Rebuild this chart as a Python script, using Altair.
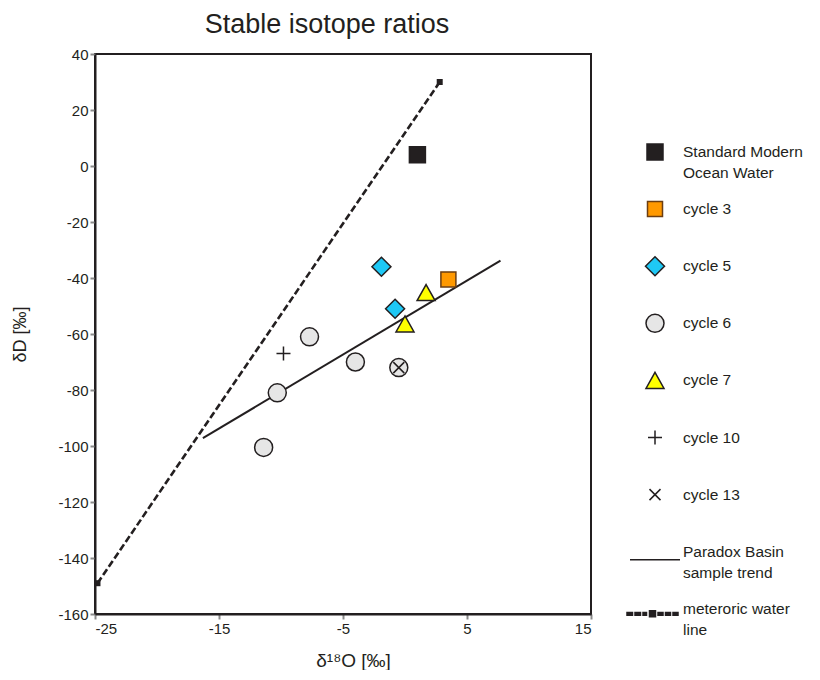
import altair as alt
import pandas as pd

# ---- data ----
series_names = ["Standard Modern|Ocean Water", "cycle 3", "cycle 5", "cycle 6", "cycle 7",
                "cycle 10", "cycle 13", "Paradox Basin|sample trend", "meteroric water|line"]

pt_series = ["Standard Modern|Ocean Water", "cycle 3", "cycle 5", "cycle 5",
             "cycle 6", "cycle 6", "cycle 6", "cycle 6", "cycle 6",
             "cycle 7", "cycle 7", "cycle 10", "cycle 13"]
pt_d18o = [1.0, 3.5, -1.9, -0.8, -7.7, -4.0, -10.3, -11.4, -0.5, 1.7, 0.0, -9.8, -0.5]
pt_dD = [4.0, -40.5, -36.0, -51.0, -61.0, -70.0, -81.0, -100.5, -72.0, -45.2, -56.4, -67.0, -72.0]

trend_d18o = [-16.3, 7.7]
trend_dD = [-97.2, -33.8]

mwl_d18o = [-24.8, 2.8]
mwl_dD = [-149.0, 30.0]

x_ticks = [-25, -15, -5, 5, 15]
y_ticks = [-160, -140, -120, -100, -80, -60, -40, -20, 0, 20, 40]

# ---- styles (symbol paths drawn in units of 10 px, fixed symbol size 400) ----
def dash(x0, w, y0=0.5):
    return f"M{x0},{y0 - 0.14}h{w}v0.28h{-w}z "

mwl_path = (dash(-2.8, 0.55) + dash(-2.0, 0.55) + dash(-1.2, 0.35) +
            "M-0.55,0.2h0.6v0.6h-0.6z " +
            dash(0.3, 0.5) + dash(1.05, 0.5) + dash(1.8, 0.5))
series_shapes = [
    "M-0.8,-0.8H0.8V0.8H-0.8Z",
    "M-0.75,-0.75H0.75V0.75H-0.75Z",
    "M0,-0.95L0.95,0L0,0.95L-0.95,0Z",
    "M-0.9,0A0.9,0.9,0,1,0,0.9,0A0.9,0.9,0,1,0,-0.9,0Z",
    "M0,-0.8L0.9,0.8L-0.9,0.8Z",
    "M-0.7,0L0.7,0M0,-0.7L0,0.7",
    "M-0.55,-0.55L0.55,0.55M-0.55,0.55L0.55,-0.55",
    "M-2.5,0.8L2.5,0.8",
    mwl_path,
]
series_fills = ["#231f20", "#ff9900", "#1ec8f5", "#e6e6e6", "#ffff00",
                "transparent", "transparent", "transparent", "#231f20"]
series_strokes = ["#231f20", "#6b3e12", "#231f20", "#231f20", "#231f20",
                  "#231f20", "#231f20", "#231f20", "#231f20"]

points = pd.DataFrame({"series": pt_series, "d18o": pt_d18o, "dD": pt_dD})
trend = pd.DataFrame({"d18o": trend_d18o, "dD": trend_dD})
mwl = pd.DataFrame({"d18o": mwl_d18o, "dD": mwl_dD})

xscale = alt.Scale(domain=[-25, 15], nice=False, zero=False)
yscale = alt.Scale(domain=[-160, 40], nice=False, zero=False)

x_axis = alt.Axis(values=x_ticks, title="δ¹⁸O [‰]", titleFontSize=19, titleFontWeight="normal",
                  titleX=258, titleY=46, titleBaseline="middle", titleAlign="center",
                  labelExpr="'' + datum.value")
y_axis = alt.Axis(values=y_ticks, title="δD [‰]", titleFontSize=18, titleFontWeight="normal",
                  titleX=-75, titleY=280, titleAngle=-90, titleBaseline="middle", titleAlign="center",
                  labelExpr="'' + datum.value")

X = alt.X("d18o:Q", scale=xscale, axis=x_axis)
Y = alt.Y("dD:Q", scale=yscale, axis=y_axis)

legend = alt.Legend(title=None, orient="none", legendX=549, legendY=87, gridAlign="all",
                    labelExpr="split(datum.label, '|')", labelFontSize=15.5, labelLimit=0,
                    symbolSize=400, labelOffset=17, rowPadding=14.1, symbolStrokeWidth=1.5,
                    symbolOpacity=1, labelFont="Liberation Sans", labelColor="#231f20",
                    labelBaseline="middle")

pts = alt.Chart(points).mark_point(opacity=1, strokeWidth=1.5, filled=False, size=400).encode(
    x=X, y=Y,
    shape=alt.Shape("series:N", scale=alt.Scale(domain=series_names, range=series_shapes), legend=legend),
    fill=alt.Fill("series:N", scale=alt.Scale(domain=series_names, range=series_fills), legend=legend),
    stroke=alt.Stroke("series:N", scale=alt.Scale(domain=series_names, range=series_strokes), legend=legend),
)

trend_line = alt.Chart(trend).mark_line(color="#231f20", strokeWidth=2).encode(x=X, y=Y)
mwl_line = alt.Chart(mwl).mark_line(color="#231f20", strokeWidth=2.6, strokeDash=[7, 3]).encode(x=X, y=Y)
mwl_ends = alt.Chart(mwl).mark_square(color="#231f20", size=36, opacity=1).encode(x=X, y=Y)

chart = alt.layer(mwl_line, mwl_ends, trend_line, pts).properties(
    width=496, height=560,
    autosize=alt.AutoSizeParams(type="none"),
    padding={"left": 87, "top": 46, "right": 218, "bottom": 56},
    title=alt.TitleParams("Stable isotope ratios", fontSize=27, fontWeight="normal",
                          font="Liberation Sans", color="#231f20", dx=-16, offset=8),
).configure(
    style={"guide-label": {"lineHeight": 21}}
).configure_view(
    stroke="#231f20", strokeWidth=2
).configure_axis(
    grid=False, domainColor="#231f20", domainWidth=2, tickColor="#8a8a8a", tickWidth=2,
    tickSize=5, labelFontSize=15, labelColor="#231f20", labelFont="Liberation Sans",
    titleFont="Liberation Sans", titleColor="#231f20", labelPadding=2
)

chart.save("out.html", embed_options={"renderer": "svg", "actions": False})
